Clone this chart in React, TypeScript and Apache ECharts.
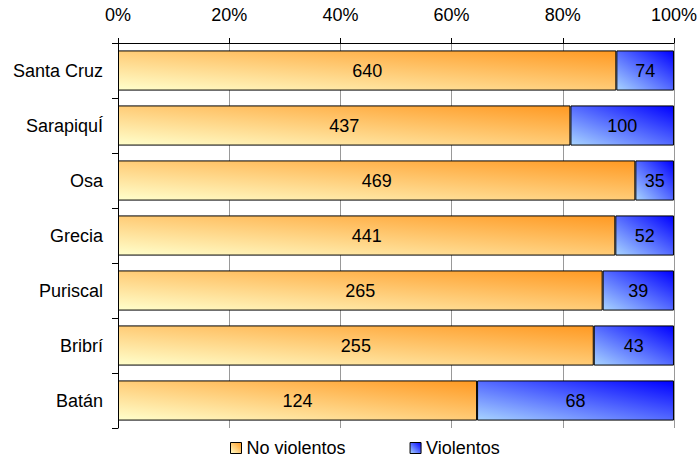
import React, { useEffect, useRef } from "react";
import * as echarts from "echarts";

const categories = ["Santa Cruz", "SarapiquÍ", "Osa", "Grecia", "Puriscal", "Bribrí", "Batán"];
const noViolentos = [640, 437, 469, 441, 265, 255, 124];
const violentos = [74, 100, 35, 52, 39, 43, 68];
const seriesNames = ["No violentos", "Violentos"];

const FONT = "'Liberation Sans', Arial, sans-serif";

export default function App() {
  const ref = useRef<HTMLDivElement>(null);
  useEffect(() => {
    if (!ref.current) return;
    document.body.style.margin = "0";
    const chart = echarts.init(ref.current, undefined, { renderer: "svg" });
    const totals = noViolentos.map((v, i) => v + violentos[i]);
    const pctA = noViolentos.map((v, i) => (v / totals[i]) * 100);
    const pctB = violentos.map((v, i) => (v / totals[i]) * 100);
    const orange = new echarts.graphic.LinearGradient(0, 1, 1, 0, [
      { offset: 0, color: "#FFFFCC" },
      { offset: 1, color: "#FF9922" },
    ]);
    const blue = new echarts.graphic.LinearGradient(0, 1, 1, 0, [
      { offset: 0, color: "#A8D4FF" },
      { offset: 1, color: "#0000FF" },
    ]);
    const label = (raw: number[]) => ({
      show: true,
      position: "inside" as const,
      color: "#000",
      fontSize: 18,
      fontFamily: FONT,
      formatter: (p: any) => String(raw[p.dataIndex]),
    });
    chart.setOption({
      animation: false,
      textStyle: { fontFamily: FONT },
      grid: { left: 118, right: 24, top: 43, height: 385, containLabel: false },
      legend: {
        data: seriesNames,
        icon: "rect",
        left: 230,
        top: 439,
        padding: 0,
        itemWidth: 11,
        itemHeight: 11,
        itemGap: 64,
        itemStyle: { borderColor: "#000", borderWidth: 1 },
        textStyle: { fontSize: 18, color: "#000", fontFamily: FONT },
      },
      xAxis: {
        type: "value",
        position: "top",
        min: 0,
        max: 100,
        interval: 20,
        axisLine: { show: true, lineStyle: { color: "#000", width: 1 } },
        axisTick: { show: true, length: 5, lineStyle: { color: "#000" } },
        axisLabel: { formatter: "{value}%", fontSize: 18, color: "#000", margin: 19, fontFamily: FONT },
        splitLine: { show: true, lineStyle: { color: "#999", width: 1 } },
      },
      yAxis: {
        type: "category",
        data: categories,
        inverse: true,
        axisLine: { show: true, lineStyle: { color: "#000", width: 1 } },
        axisTick: { show: true, length: 6, lineStyle: { color: "#000" } },
        axisLabel: { fontSize: 18, color: "#000", margin: 15, fontFamily: FONT },
      },
      series: [
        {
          name: seriesNames[0],
          type: "bar",
          stack: "total",
          data: pctA,
          barCategoryGap: "27%",
          itemStyle: { color: orange, borderColor: "#000", borderWidth: 1 },
          label: label(noViolentos),
        },
        {
          name: seriesNames[1],
          type: "bar",
          stack: "total",
          data: pctB,
          barCategoryGap: "27%",
          itemStyle: { color: blue, borderColor: "#000", borderWidth: 1 },
          label: label(violentos),
        },
      ],
    });
    return () => chart.dispose();
  }, []);
  return <div ref={ref} style={{ width: 700, height: 462 }} />;
}
